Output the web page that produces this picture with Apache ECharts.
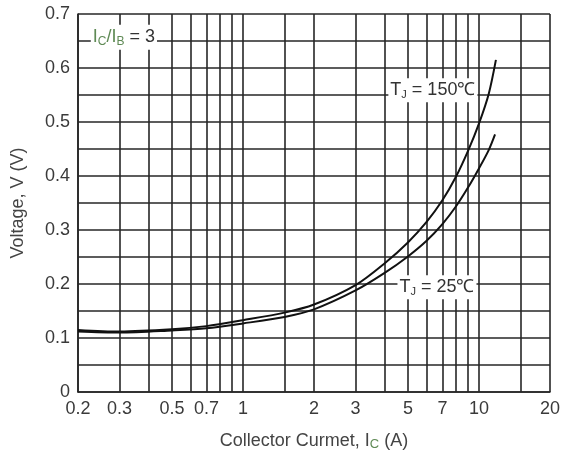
<!DOCTYPE html>
<html>
<head>
<meta charset="utf-8">
<script src="https://cdn.jsdelivr.net/npm/echarts@6/dist/echarts.min.js"></script>
<style>
html,body{margin:0;padding:0;background:#fff;}
#chart{width:563px;height:463px;}
</style>
</head>
<body>
<div id="chart"></div>
<script>
// Data
const current150 = [0.2, 0.3, 0.5, 0.7, 1, 1.5, 2, 3, 4, 5, 6, 7, 8, 9, 10, 11, 11.8];
const volt150    = [0.115, 0.112, 0.116, 0.122, 0.133, 0.147, 0.162, 0.198, 0.239, 0.277, 0.315, 0.355, 0.399, 0.447, 0.497, 0.552, 0.615];
const current25  = [0.2, 0.3, 0.5, 0.7, 1, 1.5, 2, 3, 4, 5, 6, 7, 8, 9, 10, 11, 11.7];
const volt25     = [0.112, 0.110, 0.114, 0.118, 0.127, 0.139, 0.153, 0.188, 0.221, 0.251, 0.28, 0.311, 0.344, 0.379, 0.414, 0.448, 0.477];
const xGridValues = [0.2, 0.3, 0.4, 0.5, 0.6, 0.7, 0.8, 0.9, 1, 1.5, 2, 3, 4, 5, 6, 7, 8, 9, 10, 15, 20];
const xTickLabels = [0.2, 0.3, 0.5, 0.7, 1, 2, 3, 5, 7, 10, 20];
const yTickLabels = [0, 0.1, 0.2, 0.3, 0.4, 0.5, 0.6, 0.7];

const pair = (xs, ys) => xs.map((x, i) => [x, ys[i]]);
const font = 'Arial, "Liberation Sans", sans-serif';
const gridColor = '#262626';
const green = '#5f8a55';

const chart = echarts.init(document.getElementById('chart'), null, {renderer: 'canvas'});
chart.setOption({
  animation: false,
  backgroundColor: '#fff',
  grid: {left: 78, right: 10, top: 14, bottom: 71, containLabel: false},
  xAxis: {
    type: 'log', logBase: 10, min: 0.2, max: 20,
    name: 'Collector Curmet, I{sub|C} (A)',
    nameLocation: 'middle', nameGap: 39,
    nameTextStyle: {fontFamily: font, fontSize: 18, color: '#444',
      rich: {sub: {fontFamily: font, fontSize: 13, color: green, verticalAlign: 'bottom', padding: [7, 0, 0, 0]}}},
    axisLine: {show: true, lineStyle: {color: gridColor, width: 1.6}},
    axisTick: {show: false, customValues: xGridValues},
    axisLabel: {customValues: xTickLabels, fontFamily: font, fontSize: 18, color: '#3a3a3a', margin: 8,
      formatter: v => String(+v.toPrecision(3))},
    splitLine: {show: true, lineStyle: {color: gridColor, width: 1.6}},
    minorSplitLine: {show: false}
  },
  yAxis: {
    type: 'value', min: 0, max: 0.7, interval: 0.05,
    name: 'Voltage, V (V)',
    nameLocation: 'middle', nameGap: 51,
    nameTextStyle: {fontFamily: font, fontSize: 18, color: '#444'},
    axisLine: {show: true, lineStyle: {color: gridColor, width: 1.6}},
    axisTick: {show: false},
    axisLabel: {fontFamily: font, fontSize: 18, color: '#3a3a3a', margin: 8,
      formatter: v => {
        const k = Math.round(v * 100);
        if (k % 10 !== 0) return '';
        return yTickLabels.includes(k / 100) ? (k === 0 ? '0' : (k / 100).toFixed(1)) : '';
      }},
    splitLine: {show: true, lineStyle: {color: gridColor, width: 1.6}}
  },
  series: [
    {
      name: 'TJ=150', type: 'line', smooth: 0.3, symbol: 'none',
      data: pair(current150, volt150),
      lineStyle: {color: '#111', width: 2},
      markPoint: {
        symbol: 'rect', symbolSize: 0,
        data: [
          {coord: [6.38, 0.559], value: 0,
            label: {show: true, position: 'inside',
              formatter: 'T{sub|J} = 150℃',
              fontFamily: font, fontSize: 18, color: '#333',
              backgroundColor: '#fff', padding: [2, 2, 2, 2],
              rich: {sub: {fontFamily: font, fontSize: 11, color: '#333', padding: [9, 0, 0, 0]}}}},
          {coord: [0.313, 0.657], value: 0,
            label: {show: true, position: 'inside',
              formatter: '{g|I}{gs|C}{g|/I}{gs|B} = 3',
              fontFamily: font, fontSize: 18, color: '#333',
              backgroundColor: '#fff', padding: [2, 2, 2, 2],
              rich: {g: {fontFamily: font, fontSize: 18, color: green},
                     gs: {fontFamily: font, fontSize: 12, color: green, padding: [9, 0, 0, 0]}}}}
        ]
      }
    },
    {
      name: 'TJ=25', type: 'line', smooth: 0.3, symbol: 'none',
      data: pair(current25, volt25),
      lineStyle: {color: '#111', width: 2},
      markPoint: {
        symbol: 'rect', symbolSize: 0,
        data: [
          {coord: [6.64, 0.194], value: 0,
            label: {show: true, position: 'inside',
              formatter: 'T{sub|J} = 25℃',
              fontFamily: font, fontSize: 18, color: '#333',
              backgroundColor: '#fff', padding: [2, 2, 2, 2],
              rich: {sub: {fontFamily: font, fontSize: 11, color: '#333', padding: [9, 0, 0, 0]}}}}
        ]
      }
    }
  ]
});
</script>
</body>
</html>
